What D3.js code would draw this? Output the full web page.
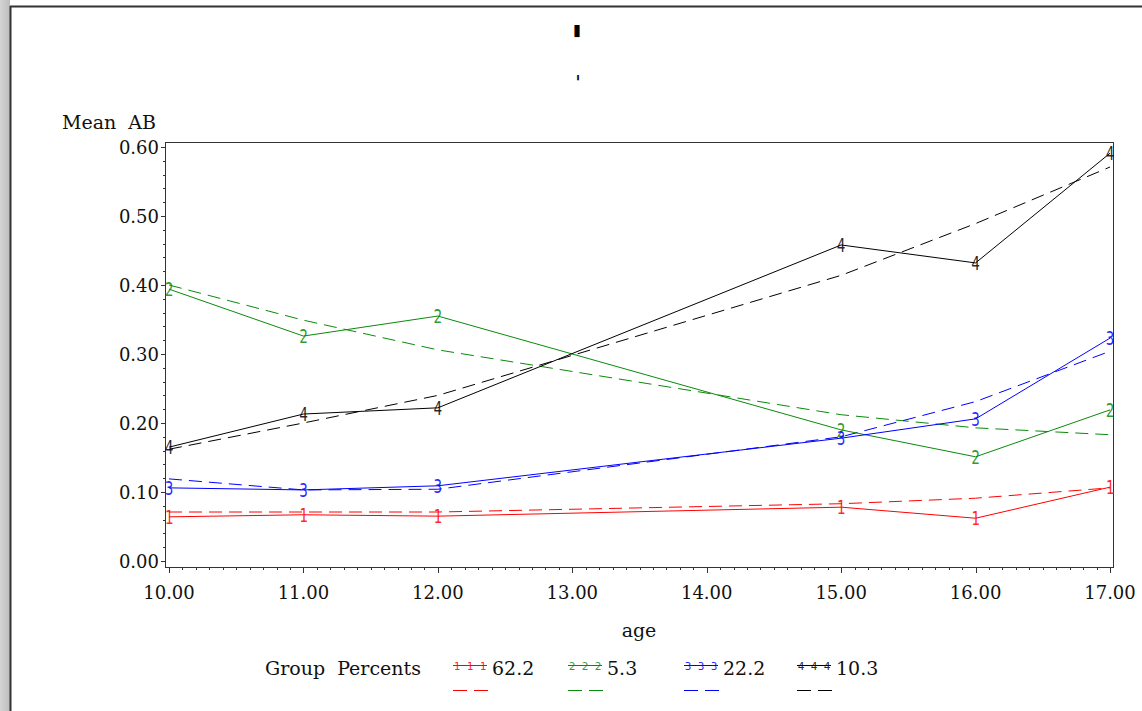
<!DOCTYPE html>
<html>
<head>
<meta charset="utf-8">
<script src="https://cdn.jsdelivr.net/npm/d3@7"></script>
<style>
  html, body { margin: 0; padding: 0; background: #fff; }
  svg { display: block; }
</style>
</head>
<body>
<svg id="chart" width="1142" height="711"></svg>
<script>
// ---------- data ----------
const ages = [10, 11, 12, 15, 16, 17];
const groupLabels = ["62.2", "5.3", "22.2", "10.3"];
const groupSymbols = ["1", "2", "3", "4"];
const groupColors = ["#ff0000", "#0a8a0a", "#0000ff", "#000000"];

// observed means (solid)
const obs1 = [0.064, 0.067, 0.065, 0.078, 0.062, 0.107];
const obs2 = [0.394, 0.326, 0.355, 0.190, 0.151, 0.219];
const obs3 = [0.106, 0.103, 0.109, 0.178, 0.206, 0.323];
const obs4 = [0.165, 0.213, 0.222, 0.458, 0.432, 0.591];

// predicted (dashed)
const pred1 = [0.071, 0.071, 0.071, 0.083, 0.091, 0.106];
const pred2 = [0.400, 0.349, 0.306, 0.212, 0.193, 0.183];
const pred3 = [0.119, 0.103, 0.104, 0.180, 0.231, 0.304];
const pred4 = [0.162, 0.200, 0.240, 0.414, 0.489, 0.571];

const observed = [obs1, obs2, obs3, obs4];
const predicted = [pred1, pred2, pred3, pred4];

const yTicks = [0, 0.1, 0.2, 0.3, 0.4, 0.5, 0.6];
const xTicks = [10, 11, 12, 13, 14, 15, 16, 17];

// ---------- layout ----------
const svg = d3.select("#chart");
const font = "'DejaVu Serif', 'Liberation Serif', serif";
const symFont = "'DejaVu Sans Mono', monospace";
const frame = {left: 165, top: 142, right: 1113, bottom: 567};

const x = d3.scaleLinear().domain([10, 17]).range([169, 1110]);
const y = d3.scaleLinear().domain([0, 0.6]).range([561, 147]);

// page decoration
const defs = svg.append("defs");
const grad = defs.append("linearGradient").attr("id", "strip").attr("x1", "0").attr("x2", "1");
grad.append("stop").attr("offset", "0").attr("stop-color", "#d4d4d4");
grad.append("stop").attr("offset", "1").attr("stop-color", "#bdbdbd");
svg.append("rect").attr("x", 0).attr("y", 0).attr("width", 10).attr("height", 711).attr("fill", "url(#strip)");
svg.append("line").attr("x1", 10).attr("x2", 1142).attr("y1", 6.5).attr("y2", 6.5).attr("stroke", "#333").attr("stroke-width", 2);
svg.append("line").attr("x1", 10.5).attr("x2", 10.5).attr("y1", 6).attr("y2", 711).attr("stroke", "#333").attr("stroke-width", 2);

// title marks
svg.append("text").attr("x", 577).attr("y", 58).attr("text-anchor", "middle")
  .attr("font-family", "'DejaVu Sans', sans-serif").attr("font-weight", "bold").attr("font-size", 44)
  .text("'");
svg.append("text").attr("x", 578).attr("y", 89).attr("text-anchor", "middle")
  .attr("font-family", "'DejaVu Sans', sans-serif").attr("font-size", 20).text("'");

// frame
svg.append("rect").attr("x", frame.left + 0.5).attr("y", frame.top + 0.5)
  .attr("width", frame.right - frame.left).attr("height", frame.bottom - frame.top)
  .attr("fill", "none").attr("stroke", "#333").attr("stroke-width", 1);

// y axis ticks
const yMinor = d3.range(0, 0.6001, 0.02);
svg.append("g").selectAll("line").data(yMinor).join("line")
  .attr("x1", d => Math.abs(d * 10 - Math.round(d * 10)) < 1e-6 ? frame.left - 4 : frame.left - 2)
  .attr("x2", frame.left)
  .attr("y1", d => Math.round(y(d)) + 0.5).attr("y2", d => Math.round(y(d)) + 0.5)
  .attr("stroke", "#333").attr("stroke-width", 1);
svg.append("g").selectAll("text").data(yTicks).join("text")
  .attr("x", 159).attr("y", d => y(d) + 7)
  .attr("text-anchor", "end").attr("font-family", font).attr("font-size", 18).attr("fill", "#111")
  .text(d => d3.format(".2f")(d));

// x axis ticks
const xMinor = d3.range(10, 17.0001, 0.1);
svg.append("g").selectAll("line").data(xMinor).join("line")
  .attr("x1", d => Math.round(x(d)) + 0.5).attr("x2", d => Math.round(x(d)) + 0.5)
  .attr("y1", frame.bottom)
  .attr("y2", d => Math.abs(d - Math.round(d)) < 1e-6 ? frame.bottom + 6 : frame.bottom + 3)
  .attr("stroke", "#333").attr("stroke-width", 1);
svg.append("g").selectAll("text").data(xTicks).join("text")
  .attr("x", d => x(d)).attr("y", 599)
  .attr("text-anchor", "middle").attr("font-family", font).attr("font-size", 18).attr("fill", "#111")
  .text(d => d3.format(".2f")(d));

// axis labels
svg.append("text").attr("x", 62).attr("y", 129).attr("font-family", font).attr("font-size", 19)
  .attr("fill", "#111").attr("xml:space", "preserve").text("Mean  AB");
svg.append("text").attr("x", 639).attr("y", 637).attr("text-anchor", "middle").attr("font-family", font)
  .attr("font-size", 19).attr("fill", "#111").text("age");

// lines
const line = d3.line().x(d => x(d[0])).y(d => y(d[1]));
const plot = svg.append("g");
predicted.forEach((vals, i) => {
  plot.append("path").datum(ages.map((a, j) => [a, vals[j]]))
    .attr("d", line).attr("fill", "none").attr("stroke", groupColors[i])
    .attr("stroke-width", 1).attr("stroke-dasharray", "13,7");
});
observed.forEach((vals, i) => {
  plot.append("path").datum(ages.map((a, j) => [a, vals[j]]))
    .attr("d", line).attr("fill", "none").attr("stroke", groupColors[i]).attr("stroke-width", 1);
  plot.append("g").selectAll("text").data(ages.map((a, j) => [a, vals[j]])).join("text")
    .attr("x", d => x(d[0])).attr("y", d => y(d[1]) + 7)
    .attr("text-anchor", "middle").attr("font-family", symFont)
    .attr("font-size", 19).attr("fill-opacity", 0.85)
    .attr("transform", d => `translate(${x(d[0])},0) scale(0.75,1) translate(${-x(d[0])},0)`)
    .attr("fill", groupColors[i]).text(groupSymbols[i]);
});

// legend
svg.append("text").attr("x", 265).attr("y", 675).attr("font-family", font).attr("font-size", 19)
  .attr("fill", "#111").attr("xml:space", "preserve").text("Group  Percents");
const legendX = [453, 568, 684, 797];
groupLabels.forEach((lab, i) => {
  const lx = legendX[i];
  const g = svg.append("g");
  g.append("line").attr("x1", lx).attr("x2", lx + 34).attr("y1", 665.5).attr("y2", 665.5)
    .attr("stroke", groupColors[i]).attr("stroke-width", 1);
  [4, 17, 30].forEach(o => {
    g.append("text").attr("x", lx + o).attr("y", 670).attr("text-anchor", "middle")
      .attr("font-family", symFont).attr("font-size", 11).attr("fill-opacity", 0.85)
      .attr("fill", groupColors[i]).text(groupSymbols[i]);
  });
  g.append("line").attr("x1", lx).attr("x2", lx + 35).attr("y1", 690.5).attr("y2", 690.5)
    .attr("stroke", groupColors[i]).attr("stroke-width", 1).attr("stroke-dasharray", "14,7");
  g.append("text").attr("x", lx + 39).attr("y", 675).attr("font-family", font).attr("font-size", 19)
    .attr("fill", "#111").text(lab);
});
</script>
</body>
</html>
